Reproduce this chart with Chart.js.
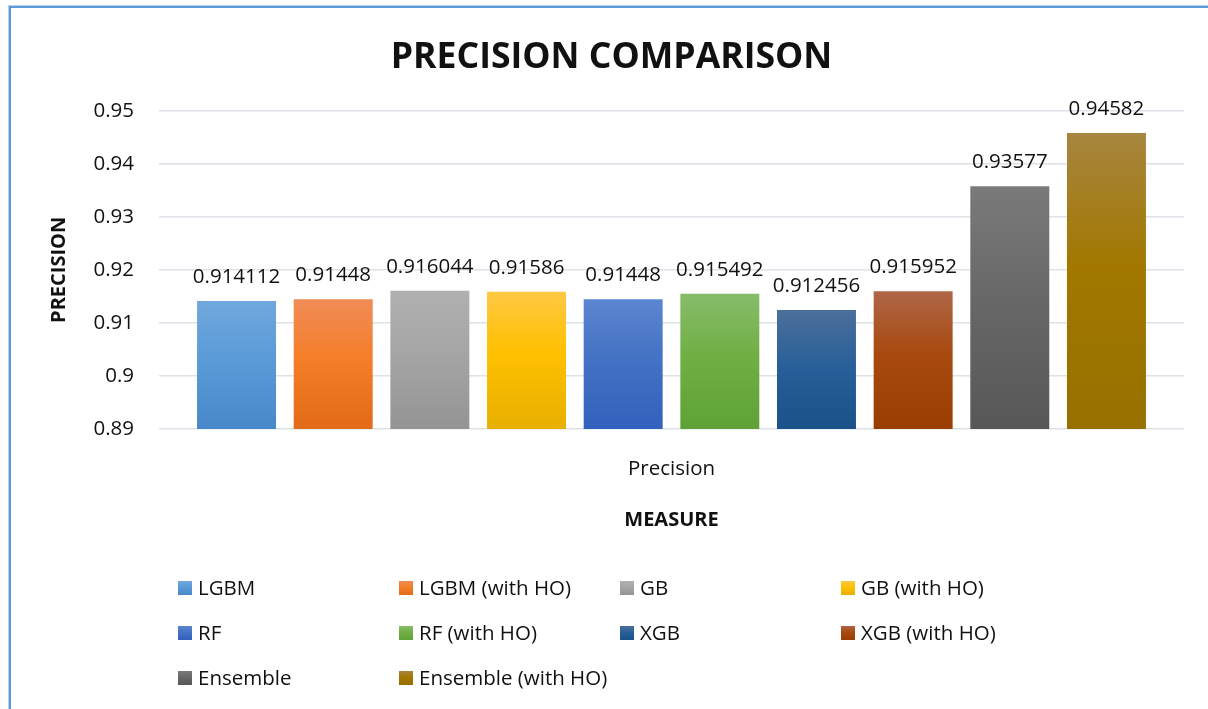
<!DOCTYPE html>
<html>
<head>
<meta charset="utf-8">
<title>Precision Comparison</title>
<script src="https://cdn.jsdelivr.net/npm/chart.js@4/dist/chart.umd.min.js"></script>
<style>
  html, body { margin: 0; padding: 0; background: #ffffff; }
  #wrap { position: relative; width: 1208px; height: 709px; overflow: hidden; }
  #frame {
    position: absolute; left: 9px; top: 6px; right: -4px; bottom: -4px;
    border-left: 2px solid #5b9bd5; border-top: 2px solid #5b9bd5;
    box-shadow: -1px -1px 0 #b4d1ee;
    pointer-events: none;
  }
  canvas { position: absolute; left: 0; top: 0; }
</style>
</head>
<body>
<div id="wrap">
  <canvas id="chart" width="1208" height="709"></canvas>
  <div id="frame"></div>
</div>
<script>
// Models compared, one bar each in the single "Precision" group
const models = ['LGBM', 'LGBM (with HO)', 'GB', 'GB (with HO)', 'RF', 'RF (with HO)',
                'XGB', 'XGB (with HO)', 'Ensemble', 'Ensemble (with HO)'];
const precision = [0.914112, 0.91448, 0.916044, 0.91586, 0.91448, 0.915492,
                   0.912456, 0.915952, 0.93577, 0.94582];
const categories = ['Precision'];
const yTickLabels = ['0.89', '0.9', '0.91', '0.92', '0.93', '0.94', '0.95'];

// Gradient stops per bar: lighter top, base tone, deeper foot
const shades = [
  ['#70a8dd', '#5a9bd8', '#4888c9'],
  ['#f08c57', '#f47e2a', '#e26a18'],
  ['#b0b0b0', '#a5a5a5', '#949494'],
  ['#ffc843', '#ffc000', '#e7af00'],
  ['#5d86d1', '#4472c4', '#3261bd'],
  ['#87bc6a', '#71af45', '#5ea237'],
  ['#4c6f9b', '#2a6099', '#1a5189'],
  ['#ae6647', '#a84a10', '#993d02'],
  ['#7a7a7a', '#686868', '#575757'],
  ['#a7853f', '#a27800', '#967000']
];

const FONT = '"Open Sans", "Noto Sans", sans-serif';
const TEXT = '#111111';

function makeGradient(ctx2d, top, bottom, stops) {
  const g = ctx2d.createLinearGradient(0, top, 0, bottom);
  g.addColorStop(0, stops[0]);
  g.addColorStop(0.45, stops[1]);
  g.addColorStop(1, stops[2]);
  return g;
}

function barFill(i) {
  return (ctx) => {
    const chart = ctx.chart;
    const yScale = chart.scales && chart.scales.y;
    if (!chart.chartArea || !yScale || ctx.raw === undefined) return shades[i][1];
    const top = yScale.getPixelForValue(ctx.raw);
    const bottom = yScale.getPixelForValue(yScale.min);
    if (!isFinite(top) || !isFinite(bottom) || bottom - top < 1) return shades[i][1];
    return makeGradient(chart.ctx, top, bottom, shades[i]);
  };
}

const datasets = models.map((name, i) => ({
  label: name,
  data: [precision[i]],
  backgroundColor: barFill(i),
  borderWidth: 0
}));

// Value labels above each bar
const valueLabels = {
  id: 'valueLabels',
  afterDatasetsDraw(chart) {
    const c = chart.ctx;
    c.save();
    c.font = '20.5px ' + FONT;
    c.fillStyle = TEXT;
    c.textAlign = 'center';
    c.textBaseline = 'alphabetic';
    chart.data.datasets.forEach((ds, di) => {
      const meta = chart.getDatasetMeta(di);
      meta.data.forEach((bar, j) => {
        c.fillText(String(ds.data[j]), bar.x, bar.y - 18);
      });
    });
    c.restore();
  }
};

// Legend laid out as a fixed four-column grid under the axis title
const gridLegend = {
  id: 'gridLegend',
  afterDraw(chart) {
    const c = chart.ctx;
    const area = chart.chartArea;
    const cols = 4, colW = 221, rowH = 45, box = 14;
    const x0 = area.left + 19, y0 = area.bottom + 159;
    c.save();
    c.font = '20.5px ' + FONT;
    c.fillStyle = TEXT;
    c.textBaseline = 'middle';
    c.textAlign = 'left';
    chart.data.datasets.forEach((ds, i) => {
      const x = x0 + (i % cols) * colW;
      const y = y0 + Math.floor(i / cols) * rowH;
      c.fillStyle = makeGradient(c, y - box / 2, y + box / 2, shades[i]);
      c.fillRect(x, y - box / 2, box, box);
      c.fillStyle = TEXT;
      c.fillText(ds.label, x + 20, y + 1);
    });
    c.restore();
  }
};

new Chart(document.getElementById('chart'), {
  type: 'bar',
  data: { labels: categories, datasets: datasets },
  options: {
    responsive: false,
    animation: false,
    layout: { padding: { left: 39, right: 24, top: 0, bottom: 170 } },
    datasets: {
      bar: { categoryPercentage: 0.943, barPercentage: 0.817 }
    },
    plugins: {
      legend: { display: false },
      tooltip: { enabled: false },
      title: {
        display: true,
        text: 'PRECISION COMPARISON',
        color: TEXT,
        font: { family: FONT, size: 35.6, weight: 'bold', lineHeight: 1.2 },
        padding: { top: 36, bottom: 32 }
      }
    },
    scales: {
      x: {
        grid: { display: false },
        border: { display: false },
        ticks: { color: TEXT, padding: 20, font: { family: FONT, size: 20.5 } },
        title: {
          display: true,
          text: 'MEASURE',
          color: TEXT,
          font: { family: FONT, size: 20, weight: 'bold', lineHeight: 1.2 },
          padding: { top: 0, bottom: 7 }
        },
        afterFit(scale) { scale.height = 110; }
      },
      y: {
        min: 0.89,
        max: 0.95,
        grid: { color: '#dde2e8', lineWidth: 1.5, drawTicks: false },
        border: { display: false },
        ticks: {
          stepSize: 0.01,
          color: TEXT,
          padding: 25,
          font: { family: FONT, size: 20.5 },
          callback: (v, idx) => yTickLabels[idx]
        },
        title: {
          display: true,
          text: 'PRECISION',
          color: TEXT,
          font: { family: FONT, size: 20, weight: 'bold', lineHeight: 1.2 },
          padding: { top: 8, bottom: 0 }
        },
        afterFit(scale) { scale.width = 120; }
      }
    }
  },
  plugins: [valueLabels, gridLegend]
});
</script>
</body>
</html>
